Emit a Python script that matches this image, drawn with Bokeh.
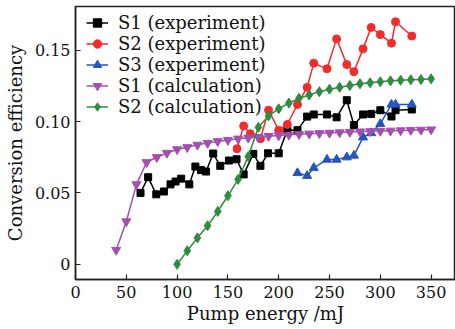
from bokeh.plotting import figure
from bokeh.models import Range1d, FixedTicker, Legend, LegendItem
from bokeh.embed import file_html
from bokeh.resources import INLINE

# ---- data ----
s1_exp_x = [64, 71.5, 79.5, 87, 93.5, 98.5, 104, 112, 118, 123.5, 128.5, 135.5, 142.5, 151, 158.5,
            165.5, 175, 182, 189.5, 200, 208.5, 218.5, 228, 234.5, 247.5, 257, 267, 274, 283, 291,
            300, 311, 315, 331]
s1_exp_y = [0.050, 0.061, 0.049, 0.051, 0.056, 0.058, 0.060, 0.056, 0.0685, 0.066, 0.065, 0.0776,
            0.069, 0.0727, 0.0736, 0.063, 0.0774, 0.069, 0.0778, 0.0778, 0.0942, 0.094, 0.1035,
            0.105, 0.105, 0.103, 0.115, 0.0976, 0.105, 0.1054, 0.108, 0.1036, 0.108, 0.1085]

s2_exp_x = [159, 165.5, 172, 182, 190, 200, 208.5, 218.5, 228, 234.5, 247.5, 257, 267, 274, 283,
            291, 300, 311, 315, 331]
s2_exp_y = [0.081, 0.097, 0.0915, 0.088, 0.108, 0.094, 0.098, 0.112, 0.124, 0.141, 0.137, 0.158,
            0.140, 0.135, 0.151, 0.166, 0.161, 0.155, 0.170, 0.160]

s3_exp_x = [218.5, 228, 234.5, 247.5, 257, 267, 274, 283, 291, 300, 311, 315, 331]
s3_exp_y = [0.064, 0.062, 0.0676, 0.0734, 0.0734, 0.075, 0.0762, 0.089, 0.092, 0.0984, 0.112,
            0.112, 0.112]

s1_calc_x = [40, 50, 60, 70, 80, 90, 100, 110, 120, 130, 140, 150, 160, 170, 180, 190, 200, 210,
             220, 230, 240, 250, 260, 270, 280, 290, 300, 310, 320, 330, 340, 350]
s1_calc_y = [0.010, 0.030, 0.056, 0.0715, 0.075, 0.078, 0.0805, 0.082, 0.0837, 0.085, 0.0862,
             0.087, 0.088, 0.0886, 0.0892, 0.0898, 0.0903, 0.0907, 0.0911, 0.0915, 0.0918, 0.0921,
             0.0924, 0.0927, 0.0930, 0.0932, 0.0934, 0.0936, 0.0938, 0.0940, 0.0942, 0.0944]

s2_calc_x = [100, 110, 120, 130, 140, 150, 160, 170, 180, 190, 200, 210, 220, 230, 240, 250, 260,
             270, 280, 290, 300, 310, 320, 330, 340, 350]
s2_calc_y = [0.000, 0.0094, 0.0185, 0.027, 0.037, 0.048, 0.0595, 0.0755, 0.096, 0.104, 0.109,
             0.113, 0.1164, 0.1187, 0.121, 0.1227, 0.1241, 0.1253, 0.1265, 0.1272, 0.1279, 0.1286,
             0.129, 0.1293, 0.1295, 0.130]

x_ticks = [0, 50, 100, 150, 200, 250, 300, 350]
y_ticks = [0, 0.05, 0.10, 0.15]
y_tick_labels = ["0", "0.05", "0.10", "0.15"]

FONT = "DejaVu Serif"

p = figure(width=455, height=329, output_backend="svg", toolbar_location=None,
           x_range=Range1d(0, 374), y_range=Range1d(-0.0107, 0.1807),
           min_border_left=75, min_border_right=0, min_border_top=6, min_border_bottom=50)
p.grid.visible = False
p.outline_line_color = "#222222"
p.outline_line_width = 1.5
p.background_fill_color = "white"

p.xaxis.ticker = FixedTicker(ticks=x_ticks)
p.yaxis.ticker = FixedTicker(ticks=y_ticks)
p.yaxis.major_label_overrides = {t: l for t, l in zip(y_ticks, y_tick_labels)}
for ax in (p.xaxis[0], p.yaxis[0]):
    ax.major_tick_in = 5
    ax.major_tick_out = 0
    ax.minor_tick_in = 0
    ax.minor_tick_out = 0
    ax.axis_line_color = "#222222"
    ax.axis_line_width = 1.5
    ax.major_tick_line_color = "#222222"
    ax.major_tick_line_width = 1.2
    ax.major_label_text_font = FONT
    ax.major_label_text_font_size = "16px"
    ax.major_label_text_color = "#111111"
    ax.axis_label_text_font = FONT
    ax.axis_label_text_font_size = "18px"
    ax.axis_label_text_font_style = "normal"
    ax.axis_label_text_color = "#111111"
p.xaxis.axis_label = "Pump energy /mJ"
p.yaxis.axis_label = "Conversion efficiency"
p.xaxis.major_label_standoff = 6
p.xaxis.axis_label_standoff = 2
p.yaxis.major_label_standoff = 5
p.yaxis.axis_label_standoff = 6

BLACK = "#000000"
RED = "#f52a2a"
BLUE = "#2456c0"
PURPLE = "#a24fae"
GREEN = "#2e8b40"
LW = 1.5

items = []
l = p.line(s1_exp_x, s1_exp_y, color=BLACK, line_width=LW)
m = p.scatter(s1_exp_x, s1_exp_y, marker="square", size=7, color=BLACK)
items.append(LegendItem(label="S1 (experiment)", renderers=[l, m]))

l = p.line(s2_exp_x, s2_exp_y, color=RED, line_width=LW)
m = p.scatter(s2_exp_x, s2_exp_y, marker="circle", size=8, color=RED)
items.append(LegendItem(label="S2 (experiment)", renderers=[l, m]))

l = p.line(s3_exp_x, s3_exp_y, color=BLUE, line_width=LW)
m = p.scatter(s3_exp_x, s3_exp_y, marker="triangle", size=9, color=BLUE)
items.append(LegendItem(label="S3 (experiment)", renderers=[l, m]))

l = p.line(s1_calc_x, s1_calc_y, color=PURPLE, line_width=LW)
m = p.scatter(s1_calc_x, s1_calc_y, marker="inverted_triangle", size=9, color=PURPLE)
items.append(LegendItem(label="S1 (calculation)", renderers=[l, m]))

l = p.line(s2_calc_x, s2_calc_y, color=GREEN, line_width=LW)
m = p.scatter(s2_calc_x, s2_calc_y, marker="diamond", size=10, color=GREEN)
items.append(LegendItem(label="S2 (calculation)", renderers=[l, m]))

legend = Legend(items=items, location=(11, 162))
legend.label_text_font = FONT
legend.label_text_font_size = "18px"
legend.label_text_color = "#111111"
legend.background_fill_alpha = 0
legend.border_line_color = None
legend.padding = 0
legend.spacing = 0
legend.margin = 0
legend.glyph_width = 22
legend.glyph_height = 21
legend.label_height = 21
legend.label_standoff = 10
p.add_layout(legend)

open("out.html", "w").write(file_html(p, INLINE))
